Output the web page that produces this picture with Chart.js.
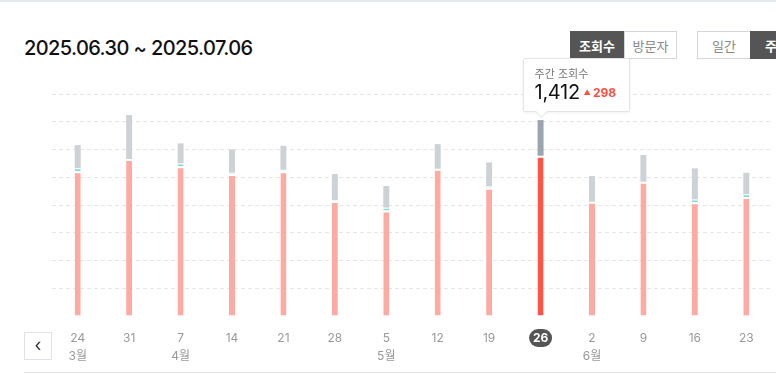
<!DOCTYPE html>
<html lang="ko">
<head>
<meta charset="utf-8">
<script src="https://cdn.jsdelivr.net/npm/chart.js@4/dist/chart.umd.min.js"></script>
<style>
  body { margin: 0; width: 776px; height: 375px; overflow: hidden; background: #fff;
         font-family: Inter, "Noto Sans CJK KR", sans-serif; position: relative; }
  .topline { position: absolute; left: 0; top: 0; width: 776px; height: 2px; background: #e6e9ec; }
  .title { position: absolute; left: 24px; top: 36px; font-size: 20px; font-weight: 500; color: #111; letter-spacing: -0.6px; }
  .btn { position: absolute; top: 31px; height: 28px; line-height: 28px; text-align: center;
         font-size: 13px; box-sizing: border-box; border: 1px solid #d3d7dc; color: #888; background: #fff; }
  .btn.on { background: #555; border-color: #555; color: #fff; font-weight: 700; }
  #chartBox { position: absolute; left: 0; top: 0; width: 776px; height: 375px; }
  .prev { position: absolute; left: 24px; top: 332px; width: 28px; height: 28px; box-sizing: border-box;
          border: 1px solid #dfe2e6; color: #333; font-size: 18px; line-height: 24px; text-align: center; }
  .bottomline { position: absolute; left: 24px; top: 372px; width: 752px; height: 1px; background: #e3e3e3; }
  #tip { position: absolute; width: 107px; height: 54px; box-sizing: border-box; background: #fff;
         border: 1px solid #e2e5e8; border-radius: 2px; box-shadow: 0 1px 3px rgba(0,0,0,0.06); }
  #tip::after { content: ""; position: absolute; left: 13px; bottom: -5px; width: 8px; height: 8px; background: #fff;
         border-right: 1px solid #e2e5e8; border-bottom: 1px solid #e2e5e8; transform: rotate(45deg); }
  #tip .lbl { position: absolute; left: 11px; top: 6px; font-size: 11px; color: #777; }
  #tip .val { position: absolute; left: 11px; top: 21px; font-size: 20px; color: #111; letter-spacing: -0.3px; }
  #tip .diff { position: absolute; left: 60px; top: 26px; font-size: 12px; font-weight: 700; color: #ff4d3f; }
  #tip .diff .tri { font-size: 7px; vertical-align: 2px; margin-right: 2px; }
</style>
</head>
<body>
<div class="topline"></div>
<div class="title">2025.06.30 ~ 2025.07.06</div>
<div class="btn on" style="left:570px;width:54px;">조회수</div>
<div class="btn" style="left:624px;width:53px;">방문자</div>
<div class="btn" style="left:697px;width:54px;">일간</div>
<div class="btn on" style="left:750px;width:54px;">주간</div>
<div id="chartBox"><canvas id="chart" width="776" height="375"></canvas></div>
<div class="prev">&lsaquo;</div>
<div class="bottomline"></div>
<div id="tip"><span class="lbl">주간 조회수</span><span class="val">1,412</span><span class="diff"><span class="tri">▲</span>298</span></div>
<script>
const days = ['24', '31', '7', '14', '21', '28', '5', '12', '19', '26', '2', '9', '16', '23'];
const months = ['3월', '', '4월', '', '', '', '5월', '', '', '', '6월', '', '', ''];
const totals = [1232, 1448, 1244, 1201, 1227, 1023, 937, 1239, 1107, 1412, 1009, 1160, 1064, 1032];
const redValues = [1044, 1131, 1080, 1023, 1044, 828, 761, 1061, 924, 1155, 823, 967, 819, 857];
const tealValues = [20, 0, 20, 10, 10, 8, 20, 0, 10, 0, 0, 0, 20, 20];
const weekDiff = 298;
const selected = 9;

const grayValues = totals.map((t, i) => t - redValues[i] - tealValues[i]);
const labels = days.map((d, i) => [d, months[i]]);

const pillPlugin = {
  id: 'pill',
  beforeDraw(chart) {
    const ctx = chart.ctx;
    const x = chart.scales.x.getPixelForValue(selected);
    ctx.save();
    ctx.fillStyle = '#555';
    ctx.beginPath();
    ctx.roundRect(x - 11.5, 329, 23, 18, 9);
    ctx.fill();
    ctx.restore();
  },
  afterRender(chart) {
    const x = chart.scales.x.getPixelForValue(selected);
    const y = chart.scales.y.getPixelForValue(totals[selected]);
    const tip = document.getElementById('tip');
    tip.style.left = (x - 18) + 'px';
    tip.style.top = (y - 62) + 'px';
  }
};

new Chart(document.getElementById('chart'), {
  type: 'bar',
  data: {
    labels: labels,
    datasets: [{
      data: redValues,
      backgroundColor: c => c.dataIndex === selected ? '#ff5545' : '#ffaaa0',
      borderColor: '#fff',
      borderWidth: { top: 2, left: 0, right: 0, bottom: 0 },
      borderSkipped: false
    }, {
      data: tealValues,
      backgroundColor: c => (tealValues[c.dataIndex] >= 15 ? '#80ddd0' : '#d3f3ee'),
      borderColor: '#fff',
      borderWidth: { top: 1, left: 0, right: 0, bottom: 0 },
      borderSkipped: false
    }, {
      data: grayValues,
      backgroundColor: c => c.dataIndex === selected ? '#9ba5ae' : '#cdd2d6',
      borderWidth: 0
    }]
  },
  options: {
    responsive: false,
    animation: false,
    events: [],
    datasets: { bar: { barThickness: 6, inflateAmount: 0 } },
    layout: { padding: { left: 52, right: 4, top: 94, bottom: 0 } },
    plugins: { legend: { display: false }, tooltip: { enabled: false } },
    scales: {
      x: {
        stacked: true,
        grid: { display: false },
        border: { display: false },
        afterFit: s => { s.height = 59; },
        ticks: {
          autoSkip: false,
          maxRotation: 0,
          padding: 5,
          color: c => c.index === selected ? '#fff' : '#999',
          font: c => ({ family: 'Inter, "Noto Sans CJK KR"', size: 12, lineHeight: '18px',
                        weight: c.index === selected ? 'bold' : 'normal' })
        }
      },
      y: {
        stacked: true,
        min: 0,
        max: 1600,
        afterFit: s => { s.width = 0; },
        ticks: { display: false, stepSize: 200 },
        grid: { drawTicks: false, color: c => c.tick.value === 0 ? 'rgba(0,0,0,0)' : '#e6e6e6' },
        border: { display: false, dash: [4, 3] }
      }
    }
  },
  plugins: [pillPlugin]
});
</script>
</body>
</html>
